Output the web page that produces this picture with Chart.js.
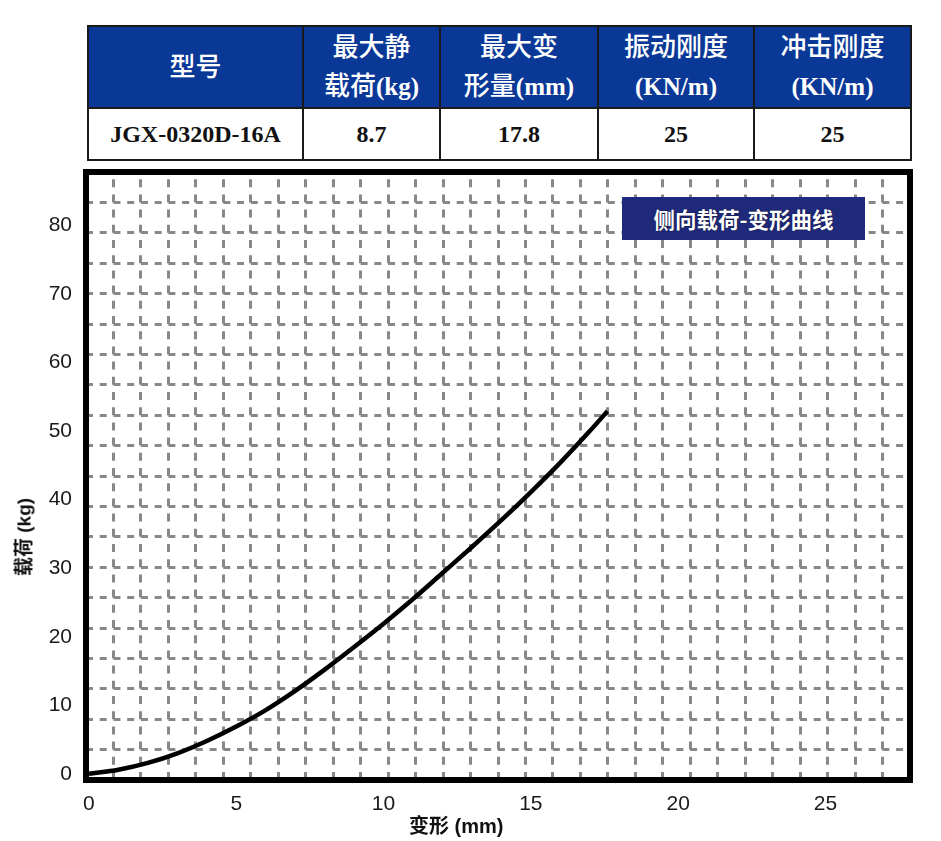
<!DOCTYPE html>
<html>
<head>
<meta charset="utf-8">
<script src="https://cdn.jsdelivr.net/npm/chart.js@4"></script>
<style>
  html, body { margin: 0; padding: 0; background: #fff; }
  body { width: 941px; height: 841px; position: relative; overflow: hidden; }
  table.spec {
    position: absolute; left: 87px; top: 25px; width: 823px; height: 134px;
    border-collapse: collapse; font-family: "Liberation Serif", "Noto Sans CJK SC", serif;
    table-layout: fixed;
  }
  table.spec td, table.spec th { border: 2px solid #1a1a1a; text-align: center; padding: 0; }
  table.spec th { background: #0a3896; color: #fff; font-size: 25px; font-weight: bold; line-height: 39px; height: 80px; }
  table.spec th .cn { font-weight: 500; font-size: 26px; }
  table.spec td { font-size: 24px; font-weight: bold; color: #111; height: 50px; }
  #wrap { position: absolute; left: 0; top: 160px; width: 941px; height: 681px; }
  .tag {
    position: absolute; left: 622px; top: 197px; width: 243px; height: 43px;
    background: #1f2a7c; color: #fff; font-family: "Noto Sans CJK SC", sans-serif;
    font-weight: bold; font-size: 21.5px; line-height: 43px; text-align: center;
    text-shadow: 0 0 2px rgba(0,0,0,0.6);
  }
  .axt { position: absolute; font-family: "Liberation Sans", "Noto Sans CJK SC", sans-serif; font-weight: bold; color: #111; white-space: nowrap; }
  #xt { left: 409px; top: 810px; font-size: 20px; }
  #yt { left: 22px; top: 537px; font-size: 19px; transform: translate(-50%, -50%) rotate(-90deg); }
</style>
</head>
<body>
<table class="spec">
  <colgroup><col style="width:215px"><col style="width:137px"><col style="width:158px"><col style="width:156px"><col style="width:157px"></colgroup>
  <tr>
    <th><span class="cn">型号</span></th>
    <th><span class="cn">最大静</span><br><span class="cn">载荷</span>(kg)</th>
    <th><span class="cn">最大变</span><br><span class="cn">形量</span>(mm)</th>
    <th><span class="cn">振动刚度</span><br>(KN/m)</th>
    <th><span class="cn">冲击刚度</span><br>(KN/m)</th>
  </tr>
  <tr>
    <td>JGX-0320D-16A</td><td>8.7</td><td>17.8</td><td>25</td><td>25</td>
  </tr>
</table>
<div id="wrap"><canvas id="grafico"></canvas></div>
<div class="tag">侧向载荷-变形曲线</div>
<div class="axt" id="xt">变形 (mm)</div>
<div class="axt" id="yt">载荷 (kg)</div>
<script>
// 变形 (mm) / 载荷 (kg)
const deformacao = [0, 1, 2, 3, 4, 5, 6, 7, 8, 9, 10, 11, 12, 13, 14, 15, 16, 17, 17.6];
const carga = [0, 0.6, 1.6, 3.0, 4.8, 6.9, 9.3, 12.1, 15.2, 18.5, 21.9, 25.5, 29.3, 33.1, 37.0, 41.1, 45.4, 50.0, 52.9];
const xTicks = [0, 5, 10, 15, 20, 25];
const yTicks = [0, 10, 20, 30, 40, 50, 60, 70, 80];

const tickFont = { family: 'Liberation Sans', size: 21 };

// thick black frame around the plot
const moldura = {
    id: 'moldura',
    afterDraw(chart) {
        const a = chart.chartArea;
        const c = chart.ctx;
        c.save();
        c.lineWidth = 6;
        c.strokeStyle = '#000';
        c.strokeRect(a.left, a.top, a.right - a.left, a.bottom - a.top);
        c.restore();
    }
};

const ctx = document.getElementById('grafico').getContext('2d');
const chart = new Chart(ctx, {
    type: 'line',
    data: {
        datasets: [{
            data: deformacao.map((x, i) => ({ x: x, y: carga[i] })),
            borderColor: '#000',
            borderWidth: 4.5,
            pointRadius: 0,
            cubicInterpolationMode: 'monotone',
            fill: false
        }]
    },
    options: {
        responsive: true,
        maintainAspectRatio: false,
        animation: false,
        layout: { padding: { top: 12, right: 31, left: 0, bottom: 0 } },
        plugins: { legend: { display: false }, tooltip: { enabled: false } },
        scales: {
            x: {
                type: 'linear', min: -0.1, max: 27.87,
                afterBuildTicks: s => { s.ticks = xTicks.map(v => ({ value: v })); },
                afterFit: s => { s.height = 61; s.paddingLeft = 0; s.paddingRight = 0; },
                grid: { display: false },
                border: { display: false },
                ticks: { color: '#1a1a1a', font: tickFont, padding: 4, maxRotation: 0 }
            },
            y: {
                type: 'linear', min: -0.9, max: 87.8,
                afterBuildTicks: s => { s.ticks = yTicks.map(v => ({ value: v })); },
                afterFit: s => { s.width = 86; s.paddingTop = 0; s.paddingBottom = 0; },
                grid: { display: false },
                border: { display: false },
                ticks: { color: '#1a1a1a', font: tickFont, padding: 6 }
            },
            gx: {
                type: 'linear', position: 'top', min: 0, max: 30,
                ticks: { display: false, stepSize: 1 },
                afterFit: s => { s.height = 0; s.paddingLeft = 0; s.paddingRight = 0; },
                grid: { color: '#888888', lineWidth: 3, drawTicks: false },
                border: { display: false, dash: [8, 7.2], dashOffset: 8 }
            },
            gy: {
                type: 'linear', position: 'right', min: 0, max: 20,
                ticks: { display: false, stepSize: 1 },
                afterFit: s => { s.width = 0; s.paddingTop = 0; s.paddingBottom = 0; },
                grid: { color: '#888888', lineWidth: 3, drawTicks: false },
                border: { display: false, dash: [7, 6.73], dashOffset: 0 }
            }
        }
    },
    plugins: [moldura]
});
</script>
</body>
</html>
